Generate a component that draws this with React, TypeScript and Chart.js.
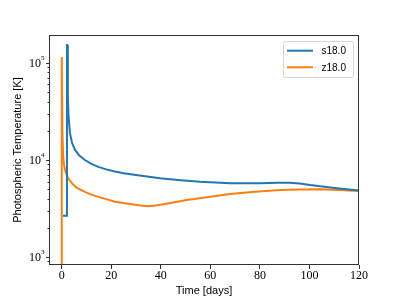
import { useEffect, useRef } from 'react';
import { Chart, registerables } from 'chart.js';
Chart.register(...registerables);

const seriesLabels = ['s18.0', 'z18.0'];
const seriesColors = ['#1f77b4', '#ff7f0e'];

const s18Days = [0.55, 2.15, 2.15, 2.25, 2.5, 2.8, 3.35, 4.2, 5.4, 7, 9.4, 12, 14.8, 18, 21.5, 25, 30, 39.7, 48, 55.9, 62, 68, 80, 87, 92.2, 96, 100.3, 108.4, 115, 120];
const s18Temp = [2670, 2670, 153000, 153000, 45000, 28000, 19000, 15000, 12700, 11200, 10000, 9100, 8500, 8000, 7600, 7300, 7000, 6470, 6200, 5970, 5850, 5750, 5750, 5820, 5840, 5720, 5520, 5220, 5000, 4850];

const z18Days = [0, 0.05, 0.3, 0.6, 1.0, 1.6, 2.5, 4.0, 6, 9.4, 12, 14.8, 18, 21.5, 27.6, 32, 34.9, 38, 44, 50.5, 60, 68, 78, 88.2, 96, 104.4, 112, 120];
const z18Temp = [600, 115000, 20000, 11000, 8800, 7500, 6600, 5800, 5200, 4700, 4400, 4170, 3950, 3720, 3520, 3390, 3340, 3400, 3600, 3870, 4180, 4460, 4700, 4900, 4970, 4980, 4900, 4800];

const xTicks = [0, 20, 40, 60, 80, 100, 120];
const yMajorTicks = [1000, 10000, 100000];
const yExponents = ['3', '4', '5'];
const yMinorMultipliers = [2, 3, 4, 5, 6, 7, 8, 9];

const X_MIN = -5.1;
const X_MAX = 120;
const Y_MIN = 828;
const Y_MAX = 194000;

const framePlugin = {
  id: 'frameAndTicks',
  afterDraw(chart: any) {
    const { ctx, chartArea: a } = chart;
    const ys = chart.scales.y;
    ctx.save();
    ctx.strokeStyle = '#333';
    ctx.lineWidth = 1;
    const L = Math.round(a.left) + 0.5;
    const R = Math.round(a.right) - 0.5;
    const T = Math.round(a.top) + 0.5;
    const B = Math.round(a.bottom) - 0.5;
    ctx.strokeRect(L, T, R - L, B - T);
    // y ticks
    ctx.beginPath();
    yMajorTicks.forEach((v) => {
      const y = Math.round(ys.getPixelForValue(v)) + 0.5;
      ctx.moveTo(L, y);
      ctx.lineTo(L - 3.5, y);
      yMinorMultipliers.forEach((m) => {
        const mv = v * m;
        if (mv > Y_MIN && mv < Y_MAX) {
          const my = Math.round(ys.getPixelForValue(mv)) + 0.5;
          ctx.moveTo(L, my);
          ctx.lineTo(L - 2, my);
        }
      });
    });
    yMinorMultipliers.forEach((m) => {
      const mv = (yMajorTicks[0] / 10) * m;
      if (mv > Y_MIN && mv < Y_MAX) {
        const my = Math.round(ys.getPixelForValue(mv)) + 0.5;
        ctx.moveTo(L, my);
        ctx.lineTo(L - 2, my);
      }
    });
    ctx.stroke();
    // y labels
    ctx.fillStyle = '#000';
    ctx.textBaseline = 'middle';
    yMajorTicks.forEach((v, i) => {
      const y = ys.getPixelForValue(v);
      ctx.font = '7px "Liberation Serif"';
      ctx.textAlign = 'left';
      const ew = ctx.measureText(yExponents[i]).width;
      const ex = a.left - 4.5 - ew;
      ctx.fillText(yExponents[i], ex, y - 4.5);
      ctx.font = '12px "Liberation Serif"';
      ctx.textAlign = 'right';
      ctx.fillText('10', ex, y + 0.5);
    });
    // legend
    const bx = 283.5, by = 41.5, bw = 70, bh = 36;
    ctx.beginPath();
    const r = 2;
    ctx.moveTo(bx + r, by);
    ctx.lineTo(bx + bw - r, by);
    ctx.arcTo(bx + bw, by, bx + bw, by + r, r);
    ctx.lineTo(bx + bw, by + bh - r);
    ctx.arcTo(bx + bw, by + bh, bx + bw - r, by + bh, r);
    ctx.lineTo(bx + r, by + bh);
    ctx.arcTo(bx, by + bh, bx, by + bh - r, r);
    ctx.lineTo(bx, by + r);
    ctx.arcTo(bx, by, bx + r, by, r);
    ctx.closePath();
    ctx.fillStyle = 'rgba(255,255,255,0.8)';
    ctx.fill();
    ctx.strokeStyle = '#d6d6d6';
    ctx.stroke();
    chart.data.datasets.forEach((ds: any, i: number) => {
      const ly = 50.7 + i * 16.6;
      ctx.strokeStyle = ds.borderColor;
      ctx.lineWidth = 2;
      ctx.beginPath();
      ctx.moveTo(287, ly);
      ctx.lineTo(313, ly);
      ctx.stroke();
      ctx.fillStyle = '#000';
      ctx.font = '10px "Liberation Sans"';
      ctx.textAlign = 'left';
      ctx.textBaseline = 'middle';
      ctx.fillText(ds.label, 321.5, ly + 0.5);
    });
    ctx.restore();
  },
};

export default function App() {
  const ref = useRef<HTMLCanvasElement | null>(null);
  useEffect(() => {
    if (!ref.current) return;
    const chart = new Chart(ref.current, {
      type: 'line',
      data: {
        datasets: [
          {
            label: seriesLabels[0],
            data: s18Days.map((d, i) => ({ x: d, y: s18Temp[i] })),
            borderColor: seriesColors[0],
            backgroundColor: seriesColors[0],
            borderWidth: 2,
            pointRadius: 0,
            tension: 0,
            fill: false,
          },
          {
            label: seriesLabels[1],
            data: z18Days.map((d, i) => ({ x: d, y: z18Temp[i] })),
            borderColor: seriesColors[1],
            backgroundColor: seriesColors[1],
            borderWidth: 2,
            pointRadius: 0,
            tension: 0,
            fill: false,
          },
        ],
      },
      options: {
        animation: false,
        responsive: false,
        maintainAspectRatio: false,
        devicePixelRatio: 1,
        layout: { padding: { left: 0, right: 40, top: 35, bottom: 0 } },
        plugins: { legend: { display: false }, tooltip: { enabled: false } },
        scales: {
          x: {
            type: 'linear',
            min: X_MIN,
            max: X_MAX,
            afterBuildTicks: (s: any) => {
              s.ticks = xTicks.map((v) => ({ value: v }));
            },
            afterFit: (s: any) => {
              s.height = 34;
            },
            grid: {
              display: true,
              drawOnChartArea: false,
              drawTicks: true,
              tickLength: 4,
              color: '#333',
            },
            border: { display: false },
            ticks: {
              color: '#000',
              font: { family: 'Liberation Serif', size: 12 },
              padding: 0,
              maxRotation: 0,
              autoSkip: false,
            },
            title: {
              display: true,
              text: 'Time [days]',
              color: '#000',
              font: { family: 'Liberation Sans', size: 11 },
              padding: { top: 0, bottom: 1 },
            },
          },
          y: {
            type: 'logarithmic',
            min: Y_MIN,
            max: Y_MAX,
            afterFit: (s: any) => {
              s.width = 49;
            },
            grid: { display: false },
            border: { display: false },
            ticks: { display: false },
            title: {
              display: true,
              text: 'Photospheric Temperature [K]',
              color: '#000',
              font: { family: 'Liberation Sans', size: 11 },
              padding: { top: 11, bottom: 0 },
            },
          },
        },
      },
      plugins: [framePlugin],
    });
    return () => chart.destroy();
  }, []);
  return (
    <div style={{ position: 'absolute', left: 0, top: 0, width: 399, height: 299, background: '#fff' }}>
      <canvas ref={ref} width={399} height={299} style={{ width: 399, height: 299, display: 'block' }} />
    </div>
  );
}
